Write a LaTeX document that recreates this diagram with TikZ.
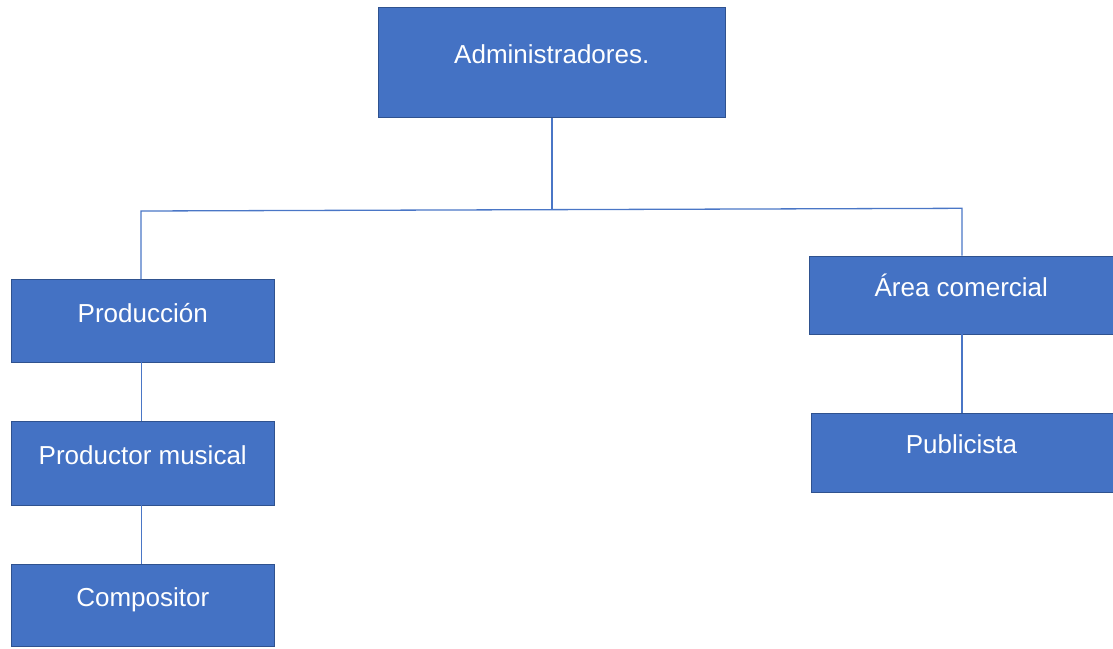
\documentclass[tikz,border=0pt]{standalone}
\usepackage{fontspec}
\setmainfont{Liberation Sans}
\definecolor{boxfill}{HTML}{4472C4}
\definecolor{boxedge}{HTML}{2F528F}
\definecolor{linec}{HTML}{4A76C6}
\begin{document}
\begin{tikzpicture}[x=1pt,y=-1pt,
  box/.style={draw=boxedge, line width=0.9pt, fill=boxfill, rectangle, inner sep=0pt},
  txt/.style={text=white, font=\fontsize{26}{30}\selectfont, yshift=8pt},
  conn/.style={draw=linec, line width=1.3pt}]
\useasboundingbox (0,0) rectangle (1113,648);
\node[box, minimum width=346.5pt, minimum height=110.5pt, label={[txt]center:Administradores.}] (admin) at (551.75,62.25) {};
\node[box, minimum width=263.5pt, minimum height=82.5pt, label={[txt]center:Producción}] (prod) at (142.75,320.75) {};
\node[box, minimum width=263.5pt, minimum height=83.3pt, label={[txt]center:Productor musical}] (prodmus) at (142.75,463.3) {};
\node[box, minimum width=263.5pt, minimum height=82.5pt, label={[txt,yshift=-3pt]center:Compositor}] (comp) at (142.75,605.25) {};
\node[box, minimum width=306.5pt, minimum height=78pt, label={[txt,xshift=-1.5pt,yshift=2pt]center:Área comercial}] (area) at (962.75,295) {};
\node[box, minimum width=305pt, minimum height=78.7pt, label={[txt,xshift=-2pt]center:Publicista}] (publ) at (963.5,452.6) {};
\coordinate (L) at (141,211);
\coordinate (R) at (962,208.3);
\coordinate (M) at (552,209.6);
\draw[conn] (admin.south -| M) -- (M);
\draw[conn] (L |- prod.north) -- (L) -- (R) -- (R |- area.north);
\draw[conn] (prod.south -| 141.5,0) -- (prodmus.north -| 141.5,0);
\draw[conn] (prodmus.south -| 141.5,0) -- (comp.north -| 141.5,0);
\draw[conn] (area.south -| R) -- (publ.north -| R);
\end{tikzpicture}
\end{document}
